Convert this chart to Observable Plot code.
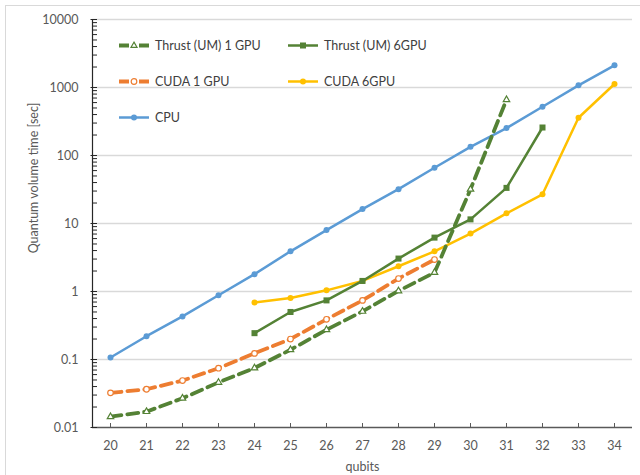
<!DOCTYPE html>
<html>
<head>
<meta charset="utf-8">
<script src="https://cdn.jsdelivr.net/npm/d3@7"></script>
<script src="https://cdn.jsdelivr.net/npm/@observablehq/plot@0.6"></script>
<style>
  html, body { margin: 0; padding: 0; background: #fff; overflow: hidden; }
  #wrap { position: relative; width: 640px; height: 475px; font-family: Lato, "Open Sans", sans-serif; }
  #border { position: absolute; left: 5px; top: 5px; width: 700px; height: 600px; border: 1px solid #d9d9d9; box-sizing: border-box; pointer-events: none; }
  #chart { position: absolute; left: 0; top: 0; }
  .leg { position: absolute; display: flex; align-items: center; font-size: 12.5px; color: #404040; white-space: nowrap; transform: translateY(-50%); }
  .leg svg { margin-right: 6px; display: block; }
  #ylab { position: absolute; left: 33px; top: 178px; font-size: 12.5px; color: #595959; white-space: nowrap; transform: translate(-50%, -50%) rotate(-90deg); }
</style>
</head>
<body>
<div id="wrap"><div id="border"></div><div id="chart"></div><div id="ylab"></div></div>
<script>
// ---- data ----
const qubits = [20, 21, 22, 23, 24, 25, 26, 27, 28, 29, 30, 31, 32, 33, 34];
const yTicks = [0.01, 0.1, 1, 10, 100, 1000, 10000];

const thrust1Qubits = [20, 21, 22, 23, 24, 25, 26, 27, 28, 29, 30, 31];
const thrust1Values = [0.0144, 0.0171, 0.0269, 0.046, 0.075, 0.139, 0.274, 0.51, 1.02, 1.9, 31.8, 661];

const thrust6Qubits = [24, 25, 26, 27, 28, 29, 30, 31, 32];
const thrust6Values = [0.244, 0.50, 0.74, 1.43, 3.05, 6.2, 11.5, 33.4, 258];

const cuda1Qubits = [20, 21, 22, 23, 24, 25, 26, 27, 28, 29];
const cuda1Values = [0.0323, 0.0365, 0.049, 0.0745, 0.123, 0.2, 0.39, 0.74, 1.55, 2.95];

const cuda6Qubits = [24, 25, 26, 27, 28, 29, 30, 31, 32, 33, 34];
const cuda6Values = [0.69, 0.80, 1.04, 1.43, 2.35, 3.9, 7.1, 14.1, 26.9, 359, 1127];

const cpuQubits = qubits;
const cpuValues = [0.107, 0.22, 0.43, 0.88, 1.8, 3.9, 8.0, 16.3, 32, 66, 134, 253, 521, 1075, 2118];

const seriesNames = ["Thrust (UM) 1 GPU", "Thrust (UM) 6GPU", "CUDA 1 GPU", "CUDA 6GPU", "CPU"];
const yLabel = "Quantum volume time [sec]";
const xLabel = "qubits";

// ---- styles ----
const GREEN = "#548235", ORANGE = "#ED7D31", YELLOW = "#FFC000", BLUE = "#5B9BD5";
const DASH = "11,6";

const toRows = (xs, vs) => xs.map((q, i) => ({q, v: vs[i]}));
const thrust1 = toRows(thrust1Qubits, thrust1Values);
const thrust6 = toRows(thrust6Qubits, thrust6Values);
const cuda1 = toRows(cuda1Qubits, cuda1Values);
const cuda6 = toRows(cuda6Qubits, cuda6Values);
const cpu = toRows(cpuQubits, cpuValues);

const xDomain = [qubits[0] - 0.5, qubits[qubits.length - 1] + 0.5];
const yDomain = [yTicks[0], yTicks[yTicks.length - 1]];
const minorTicks = [];
for (let i = 0; i < yTicks.length - 1; i++) for (let k = 2; k <= 9; k++) minorTicks.push(yTicks[i] * k);

const W = 640, H = 475, ML = 92, MR = 8, MT = 19, MB = 48;
const pxPerX = (W - ML - MR) / (xDomain[1] - xDomain[0]);
const pxPerDecade = (H - MT - MB) / Math.log10(yDomain[1] / yDomain[0]);
const tickXLen = 5 / pxPerX;              // y-axis inner tick length in x units
const tickYFactor = Math.pow(10, 4 / pxPerDecade); // x-axis inner tick length as factor

const lineMarks = (data, color, width, dashed, symbol, fill, r) => [
  Plot.line(data, {x: "q", y: "v", stroke: color, strokeWidth: width, strokeDasharray: dashed ? DASH : null, strokeLinejoin: "round"}),
  Plot.dot(data, {x: "q", y: "v", symbol, r, fill, stroke: color, strokeWidth: fill === "white" ? 1.2 : 0})
];

const chart = Plot.plot({
  width: W, height: H,
  marginLeft: ML, marginRight: MR, marginTop: MT, marginBottom: MB,
  style: {fontFamily: "Lato, 'Open Sans', sans-serif", fontSize: "12.5px", background: "transparent"},
  x: {type: "linear", domain: xDomain},
  y: {type: "log", domain: yDomain},
  marks: [
    Plot.ruleY(yTicks.slice(1), {stroke: "#d9d9d9", strokeWidth: 1.3}),
    // axes lines
    Plot.ruleX([xDomain[0]], {y1: yDomain[0], y2: yDomain[1], stroke: "#262626", strokeWidth: 1.2}),
    Plot.ruleY([yDomain[0]], {x1: xDomain[0], x2: xDomain[1], stroke: "#595959", strokeWidth: 1.3}),
    // y ticks (inside)
    Plot.ruleY(yTicks, {x1: xDomain[0] - tickXLen * 0.3, x2: xDomain[0] + tickXLen, stroke: "#262626"}),
    Plot.ruleY(minorTicks, {x1: xDomain[0], x2: xDomain[0] + tickXLen, stroke: "#262626"}),
    // x ticks (inside)
    Plot.ruleX(qubits, {y1: yDomain[0], y2: yDomain[0] * tickYFactor, stroke: "#595959"}),
    Plot.axisY(yTicks, {tickSize: 0, tickPadding: 14, tickFormat: d => String(d), fill: "#595959", label: null, fontSize: 12.5}),
    Plot.axisX(qubits, {tickSize: 0, tickPadding: 14, tickFormat: d => String(d), fill: "#595959", label: null, fontSize: 12.5}),
    Plot.text([xLabel], {frameAnchor: "bottom", dy: 39, lineAnchor: "middle", fill: "#595959", fontSize: 12.5}),
    // series
    ...lineMarks(cpu, BLUE, 2.5, false, "circle", BLUE, 3),
    ...lineMarks(cuda6, YELLOW, 2.5, false, "circle", YELLOW, 3),
    ...lineMarks(thrust6, GREEN, 2.5, false, "square", GREEN, 3.4),
    ...lineMarks(cuda1, ORANGE, 3.8, true, "circle", "white", 2.8),
    ...lineMarks(thrust1, GREEN, 3.8, true, "triangle", "white", 2.4)
  ]
});
document.getElementById("chart").appendChild(chart);
document.getElementById("ylab").textContent = yLabel;

// ---- legend (overlay) ----
const legendItems = [
  {name: seriesNames[0], color: GREEN, dashed: true, marker: "triangle", left: 119, top: 45},
  {name: seriesNames[1], color: GREEN, dashed: false, marker: "square", left: 288, top: 45},
  {name: seriesNames[2], color: ORANGE, dashed: true, marker: "ocircle", left: 119, top: 81},
  {name: seriesNames[3], color: YELLOW, dashed: false, marker: "circle", left: 288, top: 81},
  {name: seriesNames[4], color: BLUE, dashed: false, marker: "circle", left: 119, top: 117}
];
const wrap = document.getElementById("wrap");
for (const it of legendItems) {
  const div = document.createElement("div");
  div.className = "leg";
  div.style.left = it.left + "px";
  div.style.top = it.top + "px";
  let line, mk;
  if (it.dashed) {
    line = `<line x1="0" y1="6" x2="10" y2="6" stroke="${it.color}" stroke-width="3.8"/><line x1="20" y1="6" x2="30" y2="6" stroke="${it.color}" stroke-width="3.8"/>`;
  } else {
    line = `<line x1="0" y1="6" x2="30" y2="6" stroke="${it.color}" stroke-width="2.5"/>`;
  }
  if (it.marker === "triangle") mk = `<path d="M15,2.6 L18,7.8 L12,7.8 Z" fill="white" stroke="${it.color}" stroke-width="1.2"/>`;
  else if (it.marker === "square") mk = `<rect x="12" y="3" width="6" height="6" fill="${it.color}"/>`;
  else if (it.marker === "ocircle") mk = `<circle cx="15" cy="6" r="2.8" fill="white" stroke="${it.color}" stroke-width="1.2"/>`;
  else mk = `<circle cx="15" cy="6" r="3" fill="${it.color}"/>`;
  div.innerHTML = `<svg width="30" height="12">${line}${mk}</svg><span>${it.name}</span>`;
  wrap.appendChild(div);
}
</script>
</body>
</html>
